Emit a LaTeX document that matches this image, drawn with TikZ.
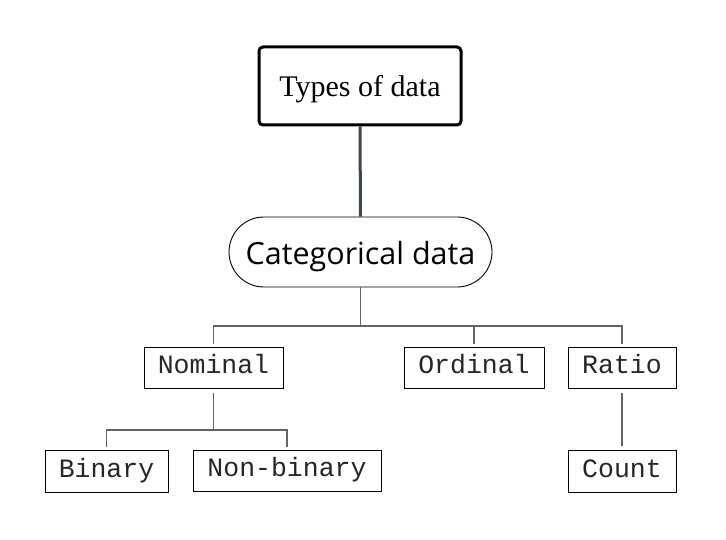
\documentclass[tikz,border=0pt]{standalone}
\usepackage{fontspec}
\newfontfamily\serifface{Liberation Serif}
\newfontfamily\sansface{Open Sans}
\newfontfamily\monoface{Liberation Mono}
\definecolor{thickcol}{HTML}{3D454D}
\definecolor{thincol}{HTML}{5F656B}
\begin{document}
\begin{tikzpicture}[x=1pt,y=-1pt,
  topbox/.style={draw=black,line width=3pt,rounded corners=4pt,minimum width=202pt,minimum height=78pt,inner sep=0pt,text height=20.5pt,text depth=0pt,font=\serifface\fontsize{30}{34}\selectfont},
  pillbox/.style={draw=black,line width=0.9pt,rounded corners=35pt,minimum width=263pt,minimum height=70pt,inner sep=0pt,text height=26pt,text depth=0pt,font=\sansface\fontsize{30.5}{34}\selectfont},
  leafbox/.style={draw=black,line width=0.9pt,minimum height=41pt,inner sep=0pt,text height=17pt,text depth=4.4pt,font=\monoface\fontsize{26.5}{28}\selectfont,text=black!85},
  thickconn/.style={draw=thickcol,line width=3pt},
  thinconn/.style={draw=thincol,line width=1.5pt}]
\useasboundingbox (0,0) rectangle (726,540);
\fill[white] (0,0) rectangle (726,540);
\node[topbox] (top) at (360,86) {Types of data};
\node[pillbox] (cat) at (360.5,252) {Categorical data};
\node[leafbox,minimum width=139pt] (nom) at (213.5,367.5) {Nominal};
\node[leafbox,minimum width=140pt] (ord) at (474,367.5) {Ordinal};
\node[leafbox,minimum width=108pt] (rat) at (622,367.5) {Ratio};
\node[leafbox,minimum width=123pt,minimum height=42pt] (bin) at (106.5,471) {Binary};
\node[leafbox,minimum width=188pt] (nonb) at (287,470.5) {Non-binary};
\node[leafbox,minimum width=108pt,minimum height=42pt] (cnt) at (622,471) {Count};
\coordinate (bus) at (0,326);
\coordinate (bus2) at (0,430);
% top connector
\draw[thickconn] (top.south) -- (cat.north);
% categorical to level 2
\draw[thinconn] (cat.south) -- (cat.south |- bus);
\draw[thinconn] ([yshift=3pt]nom.north) -- (nom.north |- bus) -- (rat.north |- bus) -- ([yshift=3pt]rat.north);
\draw[thinconn] (ord.north |- bus) -- ([yshift=3pt]ord.north);
% nominal to children
\draw[thinconn] ([yshift=-5pt]nom.south) -- (nom.south |- bus2);
\draw[thinconn] ([yshift=3pt]bin.north) -- (bin.north |- bus2) -- (nonb.north |- bus2) -- ([yshift=3pt]nonb.north);
% ratio to count
\draw[thinconn] ([yshift=-5pt]rat.south) -- ([yshift=4pt]cnt.north);
\end{tikzpicture}
\end{document}
